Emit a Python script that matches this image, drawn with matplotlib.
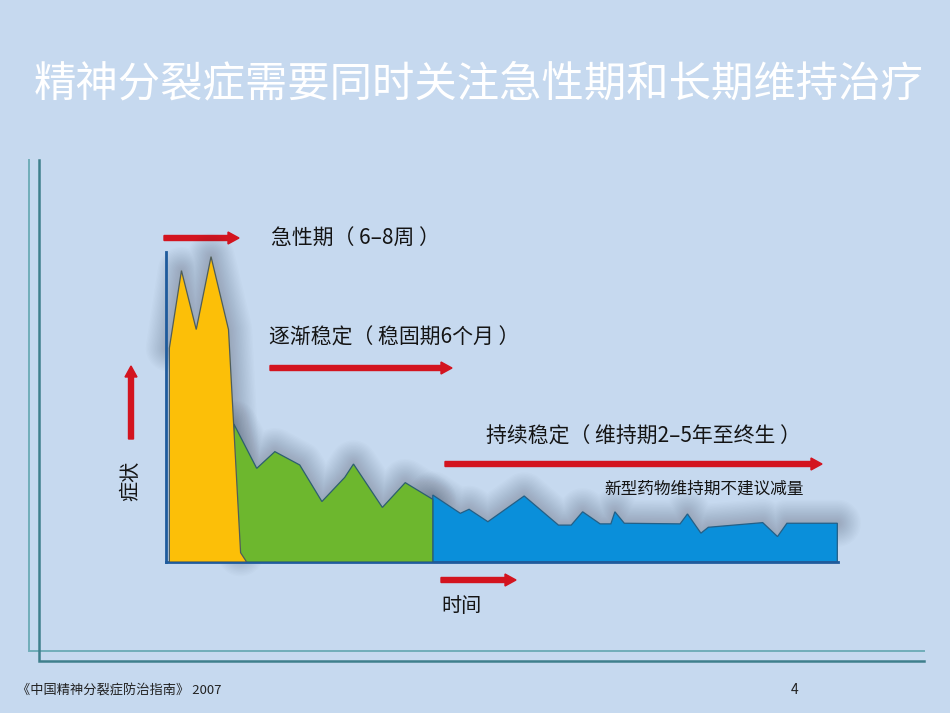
import matplotlib
matplotlib.use("Agg")
import matplotlib.pyplot as plt
from matplotlib.patches import FancyArrow

plt.rcParams['font.family'] = ['Noto Sans CJK SC', 'DejaVu Sans']

# ---------------- data (time 0-100, symptom 0-100) ----------------
acute_t = [0.5, 0.5, 2.3, 4.5, 6.7, 9.3, 11.1, 12.0]
acute_s = [0, 69, 94, 75, 98.5, 75, 3, 0]

stable_t = [10.1, 10.1, 13.5, 16.2, 19.9, 23.2, 26.6, 27.9, 32.2, 35.6, 39.7, 39.7]
stable_s = [0, 44.5, 30.2, 35.6, 31.3, 19.5, 27.3, 31.6, 17.6, 25.6, 20.2, 0]

maint_t = [39.7, 39.7, 43.8, 45.1, 47.9, 53.3, 58.4, 60.3, 62.0, 64.6, 66.2, 66.8,
           68.2, 76.5, 77.6, 79.6, 80.7, 88.8, 91.0, 92.4, 99.9, 99.9]
maint_s = [0, 21.6, 15.7, 17.0, 13.0, 21.3, 11.9, 11.9, 16.2, 12.3, 12.3, 16.2,
           12.5, 12.3, 15.5, 9.3, 11.2, 12.7, 8.2, 12.5, 12.5, 0]

title = "精神分裂症需要同时关注急性期和长期维持治疗"
label_acute = "急性期（ 6–8周 ）"
label_stable = "逐渐稳定（ 稳固期6个月 ）"
label_maint = "持续稳定（ 维持期2–5年至终生 ）"
label_note = "新型药物维持期不建议减量"
label_x = "时间"
label_y = "症状"
footer = "《中国精神分裂症防治指南》 2007"
page = "4"

# ---------------- figure ----------------
W, H = 950, 713
bg = "#c6d9ef"
fig = plt.figure(figsize=(W / 100, H / 100), dpi=100, facecolor=bg)

# overlay axes in pixel coordinates (y downwards)
ov = fig.add_axes([0, 0, 1, 1], zorder=0)
ov.set_xlim(0, W)
ov.set_ylim(H, 0)
ov.axis("off")
ov.set_facecolor(bg)

# frame lines
ov.plot([29, 29, 924], [160, 651, 651], color="#70adb9", lw=1.4, solid_joinstyle="miter")
ov.plot([39, 39, 924], [160, 661, 661], color="#3f7f8c", lw=1.8, solid_joinstyle="miter")

# title
ov.text(34, 84, title, color="white", fontsize=30.5, va="center", ha="left", fontweight="light")

# data axes
x0, x1, y0, y1 = 166, 838, 252, 562
ax = fig.add_axes([x0 / W, (H - y1) / H, (x1 - x0) / W, (y1 - y0) / H], zorder=1)
ax.set_xlim(0, 100)
ax.set_ylim(0, 100)
ax.patch.set_alpha(0)
for s in ["top", "right"]:
    ax.spines[s].set_visible(False)
for s in ["left", "bottom"]:
    ax.spines[s].set_color("#1f5b9c")
    ax.spines[s].set_linewidth(2)
ax.set_xticks([])
ax.set_yticks([])

# soft shadows (many faint layers for a smooth blur)
for t, s in [(acute_t, acute_s), (stable_t, stable_s), (maint_t, maint_s)]:
    for lw in range(34, 0, -2):
        ax.plot(t[1:-1], s[1:-1], color="#2a3040", lw=lw, alpha=0.016,
                solid_joinstyle="round", solid_capstyle="round", clip_on=False, zorder=1)

ax.fill(maint_t, maint_s, facecolor="#0a8fda", edgecolor="#245f86", lw=0.9, zorder=2)
ax.fill(stable_t, stable_s, facecolor="#6db72e", edgecolor="#2d5f6e", lw=0.9, zorder=3)
ax.fill(acute_t, acute_s, facecolor="#fcbf08", edgecolor="#4f5d5a", lw=0.9, zorder=4)

# arrows (pixel coordinates)
red = "#d3141f"
def harrow(xa, xb, y):
    ov.add_patch(FancyArrow(xa, y, xb - xa, 0, width=5, head_width=12, head_length=11,
                            length_includes_head=True, color=red, zorder=5))

harrow(164, 239, 238)
harrow(270, 452, 368)
harrow(445, 822, 464)
harrow(441, 516, 580)
ov.add_patch(FancyArrow(131, 439, 0, -73, width=5, head_width=12, head_length=11,
                        length_includes_head=True, color=red, zorder=5))

txt = "#141414"
ov.text(271, 239, label_acute, fontsize=15, color=txt, va="center", ha="left")
ov.text(269, 338, label_stable, fontsize=15, color=txt, va="center", ha="left")
ov.text(486, 437, label_maint, fontsize=15, color=txt, va="center", ha="left")
ov.text(604, 489, label_note, fontsize=12, color=txt, va="center", ha="left")
ov.text(441, 607, label_x, fontsize=14.5, color=txt, va="center", ha="left")
ov.text(131, 481, label_y, fontsize=14.5, color=txt, va="center", ha="center", rotation=90)

ov.text(17, 690, footer, fontsize=9.5, color="#222222", va="center", ha="left")
ov.text(795, 690, page, fontsize=10, color="#222222", va="center", ha="center")

fig.savefig("out.png", dpi=100, facecolor=bg)
